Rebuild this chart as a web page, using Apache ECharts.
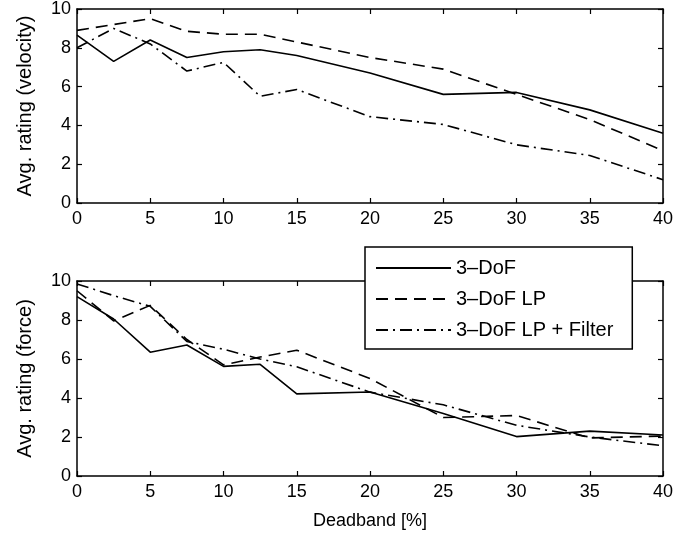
<!DOCTYPE html>
<html>
<head>
<meta charset="utf-8">
<script src="https://cdn.jsdelivr.net/npm/echarts@6/dist/echarts.min.js"></script>
<style>
html,body{margin:0;padding:0;background:#fff;}
#chart{width:695px;height:537px;}
</style>
</head>
<body>
<div id="chart"></div>
<script>
const deadband = [0, 2.5, 5, 7.5, 10, 12.5, 15, 20, 25, 30, 35, 40];
const xTicks = [0, 5, 10, 15, 20, 25, 30, 35, 40];
const yTicks = [0, 2, 4, 6, 8, 10];
const seriesNames = ['3\u2013DoF', '3\u2013DoF LP', '3\u2013DoF LP + Filter'];

const velSolid  = [8.65, 7.3, 8.4, 7.5, 7.8, 7.9, 7.6, 6.7, 5.6, 5.7, 4.8, 3.6];
const velLP     = [8.9, 9.2, 9.5, 8.85, 8.7, 8.7, 8.3, 7.5, 6.9, 5.6, 4.3, 2.7];
const velFilter = [8.0, 9.0, 8.2, 6.8, 7.25, 5.5, 5.85, 4.45, 4.05, 3.0, 2.45, 1.2];

const forceSolid  = [9.2, 8.05, 6.35, 6.72, 5.62, 5.73, 4.21, 4.31, 3.2, 2.02, 2.3, 2.1];
const forceLP     = [9.5, 7.95, 8.75, 7.0, 5.7, 6.1, 6.45, 5.0, 3.0, 3.1, 1.95, 2.05];
const forceFilter = [9.85, 9.25, 8.7, 6.9, 6.5, 6.0, 5.6, 4.3, 3.65, 2.6, 2.0, 1.55];

const FONT = 'Liberation Sans, Arial, Helvetica, sans-serif';
const lineTypes = ['solid', [12, 7], [12, 5, 2, 5]];

function pairs(vals) { return deadband.map((x, i) => [x, vals[i]]); }

const xMin = xTicks[0], xMax = xTicks[xTicks.length - 1], xInt = xTicks[1] - xTicks[0];
const yMin = yTicks[0], yMax = yTicks[yTicks.length - 1], yInt = yTicks[1] - yTicks[0];

function xAx(grid, pos, labels, name) {
  return {
    type: 'value', gridIndex: grid, position: pos, min: xMin, max: xMax, interval: xInt,
    axisLine: { show: true, onZero: false, lineStyle: { color: '#000', width: 1.5 } },
    axisTick: { show: true, inside: true, length: 5, lineStyle: { color: '#000', width: 1.2 } },
    axisLabel: { show: labels, color: '#000', fontSize: 18, fontFamily: FONT, margin: 7 },
    splitLine: { show: false },
    name: name || '', nameLocation: 'middle', nameGap: 36,
    nameTextStyle: { color: '#000', fontSize: 18, fontFamily: FONT }
  };
}
function yAx(grid, pos, labels, name) {
  return {
    type: 'value', gridIndex: grid, position: pos, min: yMin, max: yMax, interval: yInt,
    axisLine: { show: true, onZero: false, lineStyle: { color: '#000', width: 1.5 } },
    axisTick: { show: true, inside: true, length: 5, lineStyle: { color: '#000', width: 1.2 } },
    axisLabel: { show: labels, color: '#000', fontSize: 18, fontFamily: FONT, margin: 6 },
    splitLine: { show: false },
    name: name || '', nameLocation: 'middle', nameGap: 42, nameRotate: 90,
    nameTextStyle: { color: '#000', fontSize: 20, fontFamily: FONT }
  };
}

function mk(name, vals, k, xi, yi) {
  return {
    name: name, type: 'line', xAxisIndex: xi, yAxisIndex: yi, data: pairs(vals),
    symbol: 'none', showSymbol: false, animation: false,
    itemStyle: { color: '#000' },
    lineStyle: { color: '#000', width: 1.6, type: lineTypes[k] }
  };
}

const option = {
  backgroundColor: '#fff',
  animation: false,
  grid: [
    { left: 77, right: 32, top: 8, height: 195 },
    { left: 77, right: 32, top: 281, height: 195 }
  ],
  xAxis: [
    xAx(0, 'bottom', true), xAx(0, 'top', false),
    xAx(1, 'bottom', true, 'Deadband [%]'), xAx(1, 'top', false)
  ],
  yAxis: [
    yAx(0, 'left', true, 'Avg. rating (velocity)'), yAx(0, 'right', false),
    yAx(1, 'left', true, 'Avg. rating (force)'), yAx(1, 'right', false)
  ],
  legend: {
    data: seriesNames,
    orient: 'vertical',
    left: 365, top: 247,
    itemWidth: 75, itemHeight: 14, itemGap: 11,
    padding: [11, 19, 9, 10],
    backgroundColor: '#fff', borderColor: '#000', borderWidth: 1.5, borderRadius: 0,
    itemStyle: { opacity: 0 },
    textStyle: { color: '#000', fontSize: 20, fontFamily: FONT },
    z: 10,
    selectedMode: false
  },
  series: [
    mk(seriesNames[0], velSolid, 0, 0, 0),
    mk(seriesNames[1], velLP, 1, 0, 0),
    mk(seriesNames[2], velFilter, 2, 0, 0),
    mk(seriesNames[0], forceSolid, 0, 2, 2),
    mk(seriesNames[1], forceLP, 1, 2, 2),
    mk(seriesNames[2], forceFilter, 2, 2, 2)
  ]
};

const chart = echarts.init(document.getElementById('chart'), null, { renderer: 'canvas' });
chart.setOption(option);
</script>
</body>
</html>
